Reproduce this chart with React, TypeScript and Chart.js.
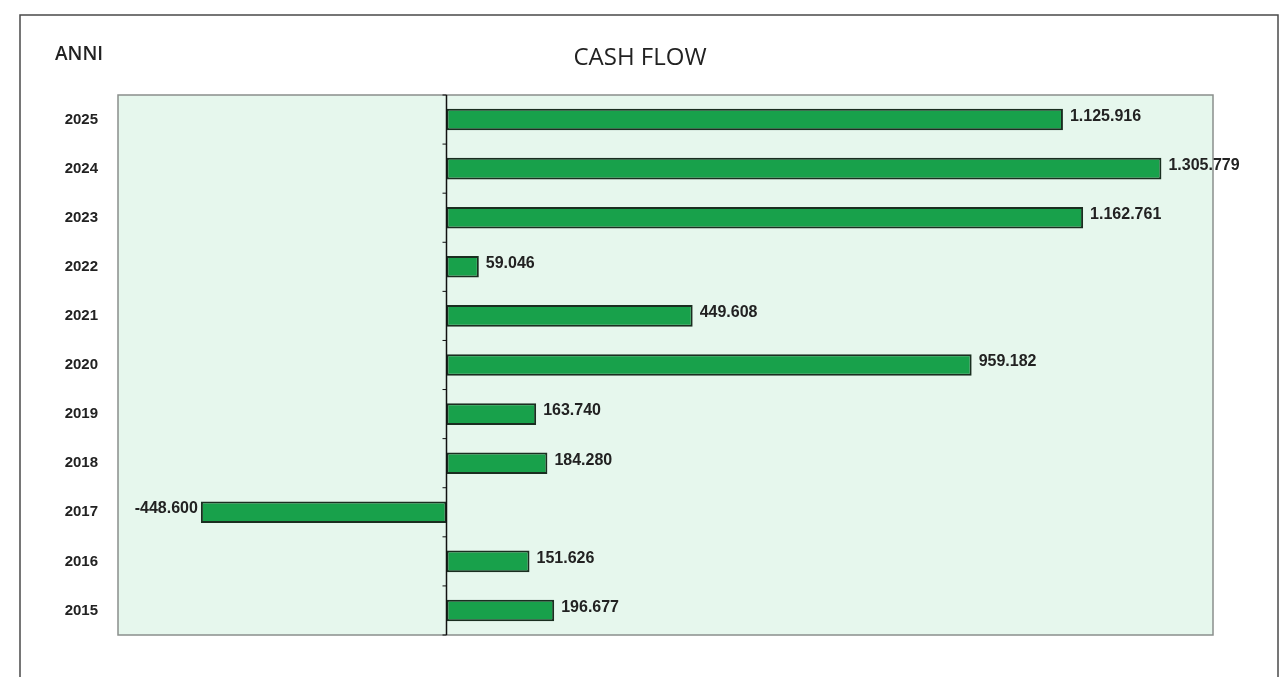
import React, { useEffect, useRef } from "react";
import { Chart, registerables } from "chart.js";

Chart.register(...registerables);

const years: string[] = ["2015", "2016", "2017", "2018", "2019", "2020", "2021", "2022", "2023", "2024", "2025"];
const cashFlow: number[] = [196677, 151626, -448600, 184280, 163740, 959182, 449608, 59046, 1162761, 1305779, 1125916];
const xMin = -600000;
const xMax = 1400000;
const titleText = "CASH FLOW";
const axisTitle = "ANNI";

const fmt = (v: number) => {
  const s = Math.abs(v).toString().replace(/\B(?=(\d{3})+(?!\d))/g, ".");
  return (v < 0 ? "-" : "") + s;
};

const framePlugin = {
  id: "framePlugin",
  beforeDraw(chart: any) {
    const { ctx, chartArea, width, height } = chart;
    ctx.save();
    ctx.fillStyle = "#ffffff";
    ctx.fillRect(0, 0, width, height);
    // outer frame
    ctx.strokeStyle = "#4a4a4a";
    ctx.lineWidth = 1.5;
    ctx.strokeRect(20, 15, 1258, height + 20);
    // plot background
    ctx.fillStyle = "#e6f7ed";
    ctx.fillRect(chartArea.left, chartArea.top, chartArea.right - chartArea.left, chartArea.bottom - chartArea.top);
    ctx.strokeStyle = "#8a8f8c";
    ctx.lineWidth = 1.5;
    ctx.strokeRect(chartArea.left, chartArea.top, chartArea.right - chartArea.left, chartArea.bottom - chartArea.top);
    // title
    ctx.fillStyle = "#222222";
    ctx.font = "24px 'Open Sans', sans-serif";
    ctx.textAlign = "center";
    ctx.textBaseline = "middle";
    ctx.fillText(titleText, 640, 58);
    ctx.font = "600 19px 'Open Sans', sans-serif";
    ctx.textAlign = "left";
    ctx.fillText(axisTitle, 55, 55);
    ctx.restore();
  },
  afterDatasetsDraw(chart: any) {
    const { ctx, chartArea, scales } = chart;
    const x0 = scales.x.getPixelForValue(0);
    ctx.save();
    ctx.strokeStyle = "#111111";
    ctx.lineWidth = 1.5;
    ctx.beginPath();
    ctx.moveTo(x0, chartArea.top);
    ctx.lineTo(x0, chartArea.bottom);
    ctx.stroke();
    // small ticks between categories
    const y = scales.y;
    ctx.lineWidth = 1;
    for (let i = 0; i <= years.length; i++) {
      const py = i === years.length ? chartArea.bottom : (i === 0 ? chartArea.top : (y.getPixelForValue(i - 1) + y.getPixelForValue(i)) / 2);
      ctx.beginPath();
      ctx.moveTo(x0 - 4, py);
      ctx.lineTo(x0, py);
      ctx.stroke();
    }
    // value labels
    const meta = chart.getDatasetMeta(0);
    ctx.fillStyle = "#222222";
    ctx.font = "bold 16px 'Liberation Sans', Arial, sans-serif";
    ctx.textBaseline = "middle";
    meta.data.forEach((bar: any, i: number) => {
      const v = cashFlow[i];
      if (v >= 0) {
        ctx.textAlign = "left";
        ctx.fillText(fmt(v), bar.x + 7, bar.y - 3);
      } else {
        ctx.textAlign = "right";
        ctx.fillText(fmt(v), bar.x - 3, bar.y - 4);
      }
    });
    ctx.restore();
  },
};

export default function App() {
  const ref = useRef<HTMLCanvasElement | null>(null);
  useEffect(() => {
    if (!ref.current) return;
    const chart = new Chart(ref.current, {
      type: "bar",
      data: {
        labels: years,
        datasets: [
          {
            data: cashFlow,
            backgroundColor: "#18a14b",
            borderColor: "#1a2e20",
            borderWidth: 2,
            borderSkipped: false,
            categoryPercentage: 1,
            barPercentage: 0.44,
          },
        ],
      },
      options: {
        indexAxis: "y",
        animation: false,
        responsive: false,
        maintainAspectRatio: false,
        layout: { padding: { top: 95, right: 72, bottom: 42, left: 0 } },
        plugins: { legend: { display: false }, tooltip: { enabled: false }, title: { display: false } },
        scales: {
          x: { display: false, min: xMin, max: xMax },
          y: {
            reverse: true,
            grid: { display: false, drawTicks: false },
            border: { display: false },
            ticks: {
              color: "#222222",
              padding: 20,
              font: { size: 15, weight: "bold", family: "'Liberation Sans', Arial, sans-serif" },
            },
            afterFit: (s: any) => {
              s.width = 118;
            },
          },
        },
      },
      plugins: [framePlugin],
    });
    return () => chart.destroy();
  }, []);
  return (
    <div style={{ position: "fixed", left: 0, top: 0, width: 1285, height: 677 }}>
      <canvas ref={ref} width={1285} height={677} style={{ width: 1285, height: 677, display: "block" }} />
    </div>
  );
}
